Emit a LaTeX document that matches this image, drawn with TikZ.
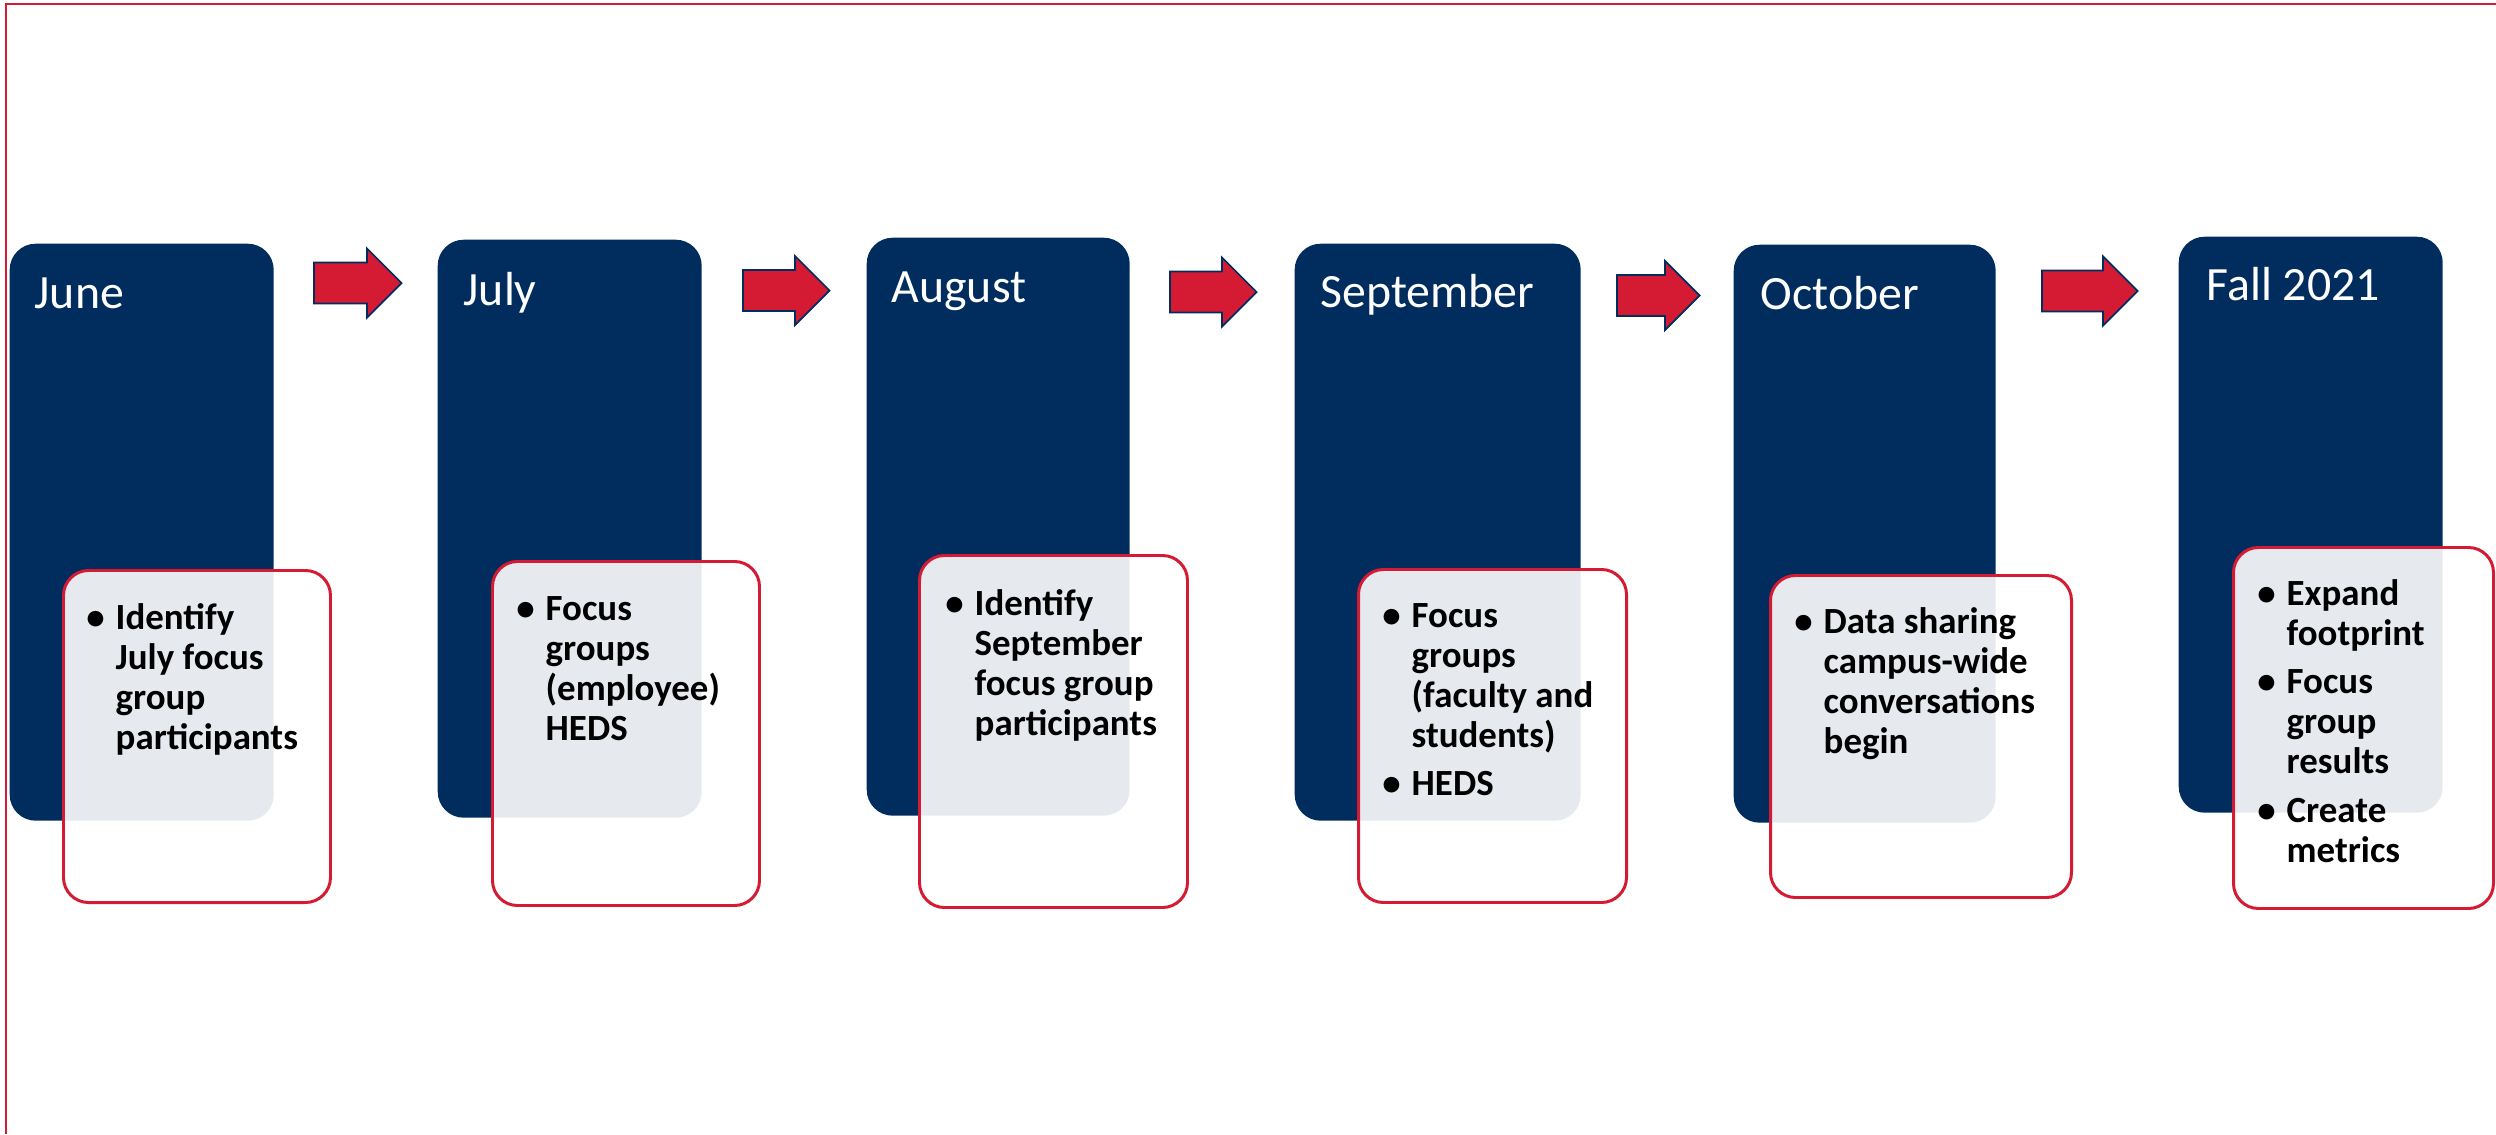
\documentclass[tikz,border=0pt]{standalone}
\usepackage{fontspec}
\setmainfont{Carlito}
\usepackage{xcolor}
\usetikzlibrary{positioning}

\definecolor{navy}{RGB}{0,45,93}
\definecolor{crimson}{RGB}{213,27,52}

\tikzset{
  month/.style={fill=navy, rounded corners=0.26cm, inner sep=0pt, anchor=north west},
  monthname/.style={text=white, font=\fontsize{13.6}{16}\selectfont, inner sep=0pt, anchor=base west},
  task/.style={draw=crimson, line width=0.85pt, fill=white, fill opacity=0.9, rounded corners=0.25cm, inner sep=0pt, anchor=north west},
  tasktext/.style={text=black, font=\bfseries\fontsize{10.5}{11.4}\selectfont, align=left, inner sep=0pt, anchor=north west},
  nextarrow/.style={draw=navy, fill=crimson, line width=0.5pt, line join=miter}
}
\newcommand{\bul}{\rule{0pt}{0.28cm}\makebox[0pt][r]{\textbullet\hspace{0.11cm}}}
% block arrow: start point (tail middle), shaft length
\newcommand{\blockarrow}[2]{%
  \draw[nextarrow] ([shift={(0,0.205)}]#1) -- ++(#2,0) -- ++(0,0.14) -- ++(0.345,-0.345)
    -- ++(-0.345,-0.345) -- ++(0,0.14) -- ++(-#2,0) -- cycle;}

\begin{document}
\begin{tikzpicture}
\useasboundingbox (0,0) rectangle (24.96,-11.34);
% Frame
\draw[crimson, line width=0.6pt] (0.06,-11.34) -- (0.06,-0.04) -- (24.96,-0.04);

% June
\node[month, minimum width=2.64cm, minimum height=5.77cm] (jun) at (0.09,-2.43) {};
\node[monthname] (junlbl) at ([shift={(0.25,-0.65)}]jun.north west) {June};
\node[task, minimum width=2.67cm, minimum height=3.32cm] (juntask) at (0.62,-5.69) {};
\node[tasktext] (juntxt) at (1.15,-6.01) {\bul Identify\\ July focus\\ group\\ participants};

\coordinate (a1) at (3.14,-2.83);
\blockarrow{a1}{0.53}

% July
\node[month, minimum width=2.64cm, minimum height=5.78cm] (jul) at (4.37,-2.39) {};
\node[monthname] (jullbl) at ([shift={(0.26,-0.66)}]jul.north west) {July};
\node[task, minimum width=2.67cm, minimum height=3.44cm] (jultask) at (4.91,-5.60) {};
\node[tasktext] (jultxt) at (5.45,-5.92) {\bul Focus\\ groups\\ (employee)\\ HEDS};

\coordinate (a2) at (7.43,-2.905);
\blockarrow{a2}{0.52}

% August
\node[month, minimum width=2.63cm, minimum height=5.78cm] (aug) at (8.66,-2.37) {};
\node[monthname] (auglbl) at ([shift={(0.25,-0.65)}]aug.north west) {August};
\node[task, minimum width=2.68cm, minimum height=3.52cm] (augtask) at (9.18,-5.54) {};
\node[tasktext] (augtxt) at (9.74,-5.87) {\bul Identify\\ September\\ focus group\\ participants};

\coordinate (a3) at (11.70,-2.92);
\blockarrow{a3}{0.52}

% September
\node[month, minimum width=2.86cm, minimum height=5.77cm] (sep) at (12.94,-2.43) {};
\node[monthname] (seplbl) at ([shift={(0.26,-0.64)}]sep.north west) {September};
\node[task, minimum width=2.68cm, minimum height=3.33cm] (septask) at (13.57,-5.68) {};
\node[tasktext] (septxt) at (14.11,-5.99) {\bul Focus\\ groups\\ (faculty and\\ students)\\[0.08cm] \bul HEDS};

\coordinate (a4) at (16.17,-2.955);
\blockarrow{a4}{0.48}

% October
\node[month, minimum width=2.62cm, minimum height=5.78cm] (oct) at (17.33,-2.44) {};
\node[monthname] (octlbl) at ([shift={(0.27,-0.65)}]oct.north west) {October};
\node[task, minimum width=3.01cm, minimum height=3.22cm] (octtask) at (17.69,-5.74) {};
\node[tasktext] (octtxt) at (18.23,-6.05) {\bul Data sharing\\ campus-wide\\ conversations\\ begin};

\coordinate (a5) at (20.42,-2.91);
\blockarrow{a5}{0.61}

% Fall 2021
\node[month, minimum width=2.64cm, minimum height=5.76cm] (fall) at (21.78,-2.36) {};
\node[monthname] (falllbl) at ([shift={(0.28,-0.64)}]fall.north west) {Fall 2021};
\node[task, minimum width=2.60cm, minimum height=3.61cm] (falltask) at (22.32,-5.46) {};
\node[tasktext] (falltxt) at (22.86,-5.77) {\bul Expand\\ footprint\\[0.08cm] \bul Focus\\ group\\ results\\[0.08cm] \bul Create\\ metrics};
\end{tikzpicture}
\end{document}
